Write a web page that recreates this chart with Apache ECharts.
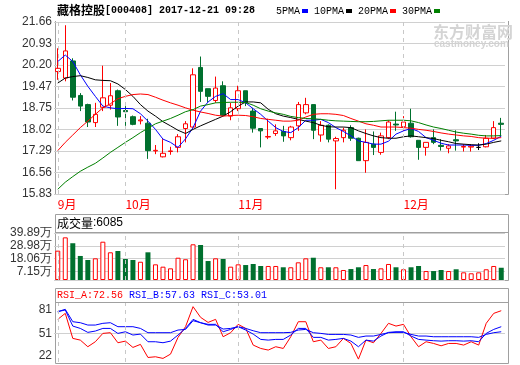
<!DOCTYPE html>
<html>
<head>
<meta charset="utf-8">
<title>藏格控股 K线</title>
<script src="https://cdn.jsdelivr.net/npm/echarts@6/dist/echarts.min.js"></script>
<style>
  html, body { margin: 0; padding: 0; background: #fff; }
  #chart { width: 520px; height: 365px; }
</style>
</head>
<body>
<div id="chart"></div>
<script>
// ---- data ----
const stockName = '藏格控股'
const stockInfo = '[000408] 2017-12-21 09:28'
const lastVolume = '6085'
const rsiLast = ['72.56', '57.63', '53.01']

const monthLabels = ['9月', '10月', '11月', '12月']
const monthStartIdx = [0, 9, 24, 46]

const openPrices = [19.98, 19.76, 20.34, 19.17, 18.86, 18.25, 18.77, 18.84, 19.33, 18.66, 18.45, 18.31, 18.23, 17.29, 17.09, 17.27, 17.41, 18.05, 18.10, 20.12, 19.40, 19.00, 19.50, 18.47, 18.72, 19.33, 18.64, 18.05, 17.76, 17.88, 17.95, 17.74, 18.14, 18.58, 18.86, 17.83, 18.16, 17.63, 17.74, 18.08, 17.72, 16.96, 17.52, 17.24, 17.74, 18.20, 18.11, 18.23, 17.65, 17.41, 17.74, 17.48, 17.38, 17.67, 17.42, 17.42, 17.41, 17.43, 17.72, 18.23]
const closePrices = [20.09, 20.68, 19.11, 18.81, 18.27, 18.53, 19.09, 19.16, 18.44, 18.62, 18.19, 18.34, 17.30, 17.31, 17.21, 17.29, 17.77, 18.21, 19.87, 19.31, 19.14, 19.42, 18.50, 18.75, 19.33, 18.92, 18.06, 17.97, 17.78, 17.97, 17.80, 18.10, 18.86, 18.86, 17.99, 18.16, 17.69, 17.71, 17.99, 17.72, 16.96, 17.58, 17.41, 17.80, 18.27, 18.17, 18.27, 17.77, 17.41, 17.58, 17.58, 17.44, 17.46, 17.63, 17.44, 17.45, 17.41, 17.72, 18.08, 18.19]
const lowPrices = [19.70, 19.65, 19.00, 18.64, 18.10, 18.10, 18.64, 18.69, 18.14, 18.14, 18.16, 18.19, 17.02, 17.18, 17.07, 17.16, 17.24, 17.58, 18.08, 18.95, 18.95, 18.92, 18.47, 18.33, 18.64, 18.81, 17.91, 17.41, 17.69, 17.80, 17.60, 17.65, 17.97, 18.53, 17.69, 17.60, 17.58, 15.99, 17.58, 17.63, 16.96, 16.55, 17.15, 17.16, 17.69, 17.97, 17.97, 17.74, 16.99, 17.13, 17.52, 17.30, 17.21, 17.30, 17.27, 17.27, 17.32, 17.41, 17.69, 17.80]
const highPrices = [20.77, 21.55, 20.43, 19.25, 18.89, 18.92, 20.18, 19.59, 19.37, 18.81, 18.49, 18.47, 18.38, 17.49, 17.69, 17.43, 17.86, 18.30, 20.09, 20.49, 19.40, 19.81, 19.65, 18.92, 19.50, 19.33, 18.75, 18.05, 18.38, 18.19, 18.14, 18.14, 18.95, 19.09, 18.86, 18.30, 18.19, 17.77, 18.08, 18.16, 17.74, 18.02, 17.95, 17.91, 18.33, 18.62, 18.47, 18.72, 17.65, 17.58, 18.02, 17.69, 17.52, 17.99, 17.52, 17.52, 17.55, 17.83, 18.30, 18.41]

const ma5 = [20.32, 20.54, 20.32, 19.87, 19.48, 19.14, 18.81, 18.75, 18.72, 18.73, 18.72, 18.55, 18.30, 18.02, 17.69, 17.58, 17.41, 17.70, 18.08, 18.64, 18.95, 19.14, 19.23, 19.03, 19.03, 18.92, 18.72, 18.53, 18.30, 18.08, 17.95, 17.91, 18.08, 18.33, 18.33, 18.36, 18.25, 18.08, 17.95, 17.80, 17.63, 17.58, 17.52, 17.52, 17.62, 17.86, 17.97, 18.05, 17.95, 17.74, 17.65, 17.55, 17.49, 17.49, 17.49, 17.48, 17.48, 17.54, 17.65, 17.79]
const ma10 = [19.59, 19.76, 19.81, 19.84, 19.78, 19.70, 19.68, 19.67, 19.56, 19.37, 19.14, 18.86, 18.64, 18.47, 18.28, 18.14, 17.99, 17.88, 18.02, 18.14, 18.25, 18.36, 18.47, 18.62, 18.81, 18.95, 18.95, 18.92, 18.70, 18.55, 18.47, 18.42, 18.36, 18.30, 18.25, 18.16, 18.11, 18.10, 18.10, 18.08, 17.97, 17.88, 17.80, 17.74, 17.72, 17.72, 17.77, 17.80, 17.77, 17.74, 17.71, 17.65, 17.60, 17.54, 17.52, 17.50, 17.49, 17.52, 17.58, 17.63]
const ma20 = [17.30, 17.58, 17.83, 18.08, 18.30, 18.53, 18.75, 18.89, 19.06, 19.14, 19.20, 19.22, 19.20, 19.11, 19.01, 18.92, 18.84, 18.75, 18.67, 18.61, 18.56, 18.50, 18.47, 18.49, 18.50, 18.49, 18.45, 18.39, 18.36, 18.33, 18.30, 18.30, 18.33, 18.44, 18.53, 18.55, 18.55, 18.53, 18.49, 18.39, 18.30, 18.21, 18.16, 18.10, 18.10, 18.10, 18.08, 18.06, 18.02, 17.99, 17.95, 17.90, 17.86, 17.83, 17.80, 17.78, 17.74, 17.72, 17.72, 17.74]
const ma30 = [15.99, 16.23, 16.42, 16.60, 16.74, 16.87, 17.05, 17.24, 17.41, 17.58, 17.74, 17.91, 18.06, 18.21, 18.30, 18.39, 18.50, 18.62, 18.69, 18.81, 18.86, 18.92, 18.93, 18.94, 18.94, 18.93, 18.84, 18.72, 18.64, 18.58, 18.53, 18.46, 18.42, 18.39, 18.38, 18.36, 18.33, 18.31, 18.30, 18.29, 18.28, 18.28, 18.29, 18.31, 18.33, 18.33, 18.33, 18.31, 18.25, 18.17, 18.10, 18.05, 17.99, 17.93, 17.89, 17.86, 17.82, 17.80, 17.80, 17.81]

// volume in 万
const volumes = [24.9, 36.2, 31.2, 20.4, 17.0, 18.4, 32.5, 23.5, 24.6, 17.8, 17.0, 15.5, 23.5, 13.3, 11.3, 9.9, 18.9, 17.6, 30.3, 29.7, 16.1, 18.4, 17.8, 11.3, 13.3, 12.7, 13.6, 11.9, 11.9, 11.9, 10.8, 10.8, 15.0, 18.4, 18.9, 10.8, 10.8, 10.8, 8.5, 9.3, 10.8, 12.7, 9.3, 9.9, 13.6, 10.8, 9.1, 10.8, 11.9, 7.6, 7.6, 8.5, 7.6, 9.1, 6.5, 5.7, 6.5, 9.1, 11.9, 10.4]

const rsiA = [69.0, 76.7, 44.6, 42.4, 33.9, 40.3, 51.0, 51.9, 39.0, 41.1, 33.0, 36.9, 20.1, 21.0, 18.9, 24.4, 45.9, 59.6, 85.3, 71.6, 65.1, 69.0, 46.7, 51.9, 62.6, 57.4, 36.0, 31.7, 29.6, 33.9, 31.7, 46.7, 66.0, 66.0, 40.3, 42.4, 31.7, 33.9, 44.6, 38.1, 18.0, 42.4, 39.0, 51.0, 63.9, 60.4, 62.6, 46.7, 33.9, 40.3, 38.1, 35.1, 38.1, 38.1, 36.0, 40.3, 36.0, 63.9, 76.7, 80.1]
const rsiB = [78.9, 81.0, 60.4, 57.4, 52.3, 54.0, 57.4, 57.4, 51.0, 53.1, 48.9, 50.1, 40.3, 40.3, 39.0, 41.1, 48.9, 57.4, 69.0, 64.7, 62.6, 62.6, 53.1, 56.1, 59.6, 55.3, 50.1, 43.3, 42.4, 43.3, 43.3, 48.9, 57.4, 57.4, 45.9, 45.9, 42.4, 43.3, 44.6, 41.1, 33.9, 42.4, 41.1, 47.6, 52.3, 53.1, 53.1, 47.6, 43.3, 42.4, 41.6, 41.1, 41.6, 41.6, 41.1, 41.6, 40.3, 51.0, 56.1, 59.6]
const rsiC = [78.9, 81.9, 66.0, 64.7, 61.7, 61.7, 63.9, 64.7, 59.6, 59.6, 59.6, 57.4, 51.9, 51.9, 51.9, 51.9, 55.3, 56.1, 67.3, 64.7, 61.7, 61.7, 56.6, 57.4, 59.6, 57.4, 54.4, 51.9, 51.9, 51.9, 51.9, 52.3, 55.3, 56.1, 51.9, 51.0, 49.7, 49.7, 49.7, 48.9, 45.9, 47.6, 47.6, 49.7, 51.9, 52.3, 52.3, 49.7, 47.6, 47.6, 46.7, 46.7, 46.7, 46.7, 46.7, 46.7, 45.9, 49.7, 51.9, 53.1]

const priceTicks = [15.83, 16.56, 17.29, 18.02, 18.75, 19.47, 20.20, 20.93, 21.66]
const volumeTicks = [0, 7.15, 18.06, 28.98, 39.89]
const rsiTicks = [22, 51, 81]

const maNames = ['5PMA', '10PMA', '20PMA', '30PMA']
const maColors = ['#0000ff', '#000000', '#ff0000', '#008000']

// ---- styling ----
const RED = '#ff0000'
const GREEN = '#00702e'
const GRID_LINE = '#d0d0d0'
const FRAME = '#a0a0a0'
const LABEL_FONT = 'Liberation Sans'
const MONO_FONT = 'Liberation Mono'
const CJK_FONT = 'Noto Sans CJK SC'

const days = openPrices.map((_, i) => String(i))
const candles = openPrices.map((o, i) => [o, closePrices[i], lowPrices[i], highPrices[i]])
const volumeBars = volumes.map((v, i) => {
  const up = closePrices[i] >= openPrices[i]
  return {
    value: v,
    itemStyle: up
      ? { color: '#fff', borderColor: RED, borderWidth: 1 }
      : { color: GREEN, borderColor: GREEN, borderWidth: 0 }
  }
})

// legend text: name, small gap, colour swatch
const legendRich = { t: { fontFamily: MONO_FONT, fontSize: 10, fill: '#000' }, g: { width: 2 } }
maColors.forEach((c, i) => {
  legendRich['s' + i] = { width: 6, height: 4, backgroundColor: c }
})
const legendText = maNames.map((n, i) => '{t|' + n + '}{g|}{s' + i + '|}').join('{t| }')

const monthLines = {
  silent: true,
  symbol: ['none', 'none'],
  label: { show: false },
  lineStyle: { color: '#c8c8c8', type: [4, 4], width: 1 },
  data: monthStartIdx.map(i => ({ xAxis: i }))
}

const baseX = {
  type: 'category',
  data: days,
  boundaryGap: true,
  axisLine: { show: false },
  axisTick: { show: false },
  axisLabel: { show: false },
  splitLine: { show: false }
}

const axisLabelStyle = {
  color: '#333',
  fontSize: 12,
  fontFamily: LABEL_FONT,
  margin: 2
}

const maSeries = [ma5, ma10, ma20, ma30].map((d, i) => ({
  name: maNames[i],
  type: 'line',
  xAxisIndex: 0,
  yAxisIndex: 0,
  data: d,
  color: maColors[i],
  showSymbol: false,
  lineStyle: { width: 1 }
}))

const chart = echarts.init(document.getElementById('chart'))

const option = {
  animation: false,
  backgroundColor: '#fff',
  title: {
    text: '{cn|' + stockName + '}{en|' + stockInfo + '}',
    left: 57,
    top: 4,
    padding: 0,
    textStyle: {
      rich: {
        cn: { fontFamily: CJK_FONT, fontSize: 12, color: '#000' },
        en: { fontFamily: MONO_FONT, fontSize: 10, color: '#000' }
      }
    }
  },
  grid: [
    { left: 54, right: 15, top: 22, height: 172, outerBoundsMode: 'none' },
    { left: 54, right: 15, top: 233, height: 47, outerBoundsMode: 'none' },
    { left: 54, right: 15, top: 303, height: 59, outerBoundsMode: 'none' }
  ],
  xAxis: [
    Object.assign({}, baseX, {
      gridIndex: 0,
      axisLabel: {
        show: true,
        color: RED,
        fontSize: 12,
        fontFamily: CJK_FONT,
        align: 'left',
        margin: 4,
        interval: (index) => monthStartIdx.includes(index),
        formatter: (value, index) => monthLabels[monthStartIdx.indexOf(index)] || ''
      }
    }),
    Object.assign({}, baseX, { gridIndex: 1 }),
    Object.assign({}, baseX, { gridIndex: 2 })
  ],
  yAxis: [
    {
      type: 'value', gridIndex: 0, min: 15.83, max: 21.66,
      axisLine: { show: false },
      axisTick: { show: false, customValues: priceTicks },
      axisLabel: Object.assign({}, axisLabelStyle, {
        customValues: priceTicks,
        formatter: v => v.toFixed(2)
      }),
      splitLine: { show: true, lineStyle: { color: GRID_LINE, width: 1 } }
    },
    {
      type: 'value', gridIndex: 1, min: 0, max: 39.89,
      axisLine: { show: false },
      axisTick: { show: false, customValues: volumeTicks },
      axisLabel: Object.assign({}, axisLabelStyle, {
        customValues: volumeTicks,
        formatter: v => (v === 0 ? '0' : v.toFixed(2) + '万')
      }),
      splitLine: { show: true, lineStyle: { color: GRID_LINE, width: 1 } }
    },
    {
      type: 'value', gridIndex: 2, min: 14.3, max: 90,
      axisLine: { show: false },
      axisTick: { show: false, customValues: [51] },
      axisLabel: Object.assign({}, axisLabelStyle, { customValues: rsiTicks }),
      splitLine: { show: true, lineStyle: { color: GRID_LINE, width: 1 } }
    }
  ],
  series: [
    {
      name: 'K',
      type: 'candlestick',
      xAxisIndex: 0, yAxisIndex: 0,
      barWidth: 5,
      data: candles,
      itemStyle: {
        color: '#fff', color0: GREEN,
        borderColor: RED, borderColor0: GREEN, borderColorDoji: '#000',
        borderWidth: 1
      },
      markLine: monthLines
    },
    ...maSeries,
    {
      name: '成交量',
      type: 'bar',
      xAxisIndex: 1, yAxisIndex: 1,
      barWidth: 5,
      data: volumeBars,
      markLine: monthLines
    },
    { name: 'RSI_A', type: 'line', xAxisIndex: 2, yAxisIndex: 2, data: rsiA, color: RED, showSymbol: false, lineStyle: { width: 1 }, markLine: monthLines },
    { name: 'RSI_B', type: 'line', xAxisIndex: 2, yAxisIndex: 2, data: rsiB, color: '#0000ff', showSymbol: false, lineStyle: { width: 1 } },
    { name: 'RSI_C', type: 'line', xAxisIndex: 2, yAxisIndex: 2, data: rsiC, color: '#0000ff', showSymbol: false, lineStyle: { width: 1 } }
  ],
  graphic: [
    // MA legend
    {
      type: 'text', silent: true, left: 276, top: 5,
      style: { text: legendText, rich: legendRich }
    },
    // main panel frame
    { type: 'polyline', silent: true, shape: { points: [[55.5, 21], [55.5, 194.5], [508.5, 194.5], [508.5, 21]] }, style: { stroke: FRAME, fill: null, lineWidth: 1 } },
    // volume panel
    { type: 'rect', silent: true, shape: { x: 55.5, y: 214.5, width: 453, height: 66 }, style: { stroke: FRAME, fill: null, lineWidth: 1 } },
    { type: 'line', silent: true, shape: { x1: 55.5, y1: 232.5, x2: 508.5, y2: 232.5 }, style: { stroke: FRAME, lineWidth: 1 } },
    {
      type: 'text', silent: true, left: 57, top: 217,
      style: {
        text: '{cn|成交量}{en|:' + lastVolume + '}',
        rich: {
          cn: { fontFamily: CJK_FONT, fontSize: 12, fill: '#000' },
          en: { fontFamily: LABEL_FONT, fontSize: 12, fill: '#000' }
        }
      }
    },
    // RSI panel
    { type: 'rect', silent: true, shape: { x: 55.5, y: 288.5, width: 453, height: 75 }, style: { stroke: FRAME, fill: null, lineWidth: 1 } },
    { type: 'line', silent: true, shape: { x1: 55.5, y1: 302.5, x2: 508.5, y2: 302.5 }, style: { stroke: FRAME, lineWidth: 1 } },
    {
      type: 'text', silent: true, left: 57, top: 290,
      style: {
        text: '{a|RSI_A:' + rsiLast[0] + '} {b|RSI_B:' + rsiLast[1] + '} {b|RSI_C:' + rsiLast[2] + '}',
        font: '10px ' + MONO_FONT,
        rich: {
          a: { fontFamily: MONO_FONT, fontSize: 10, fill: RED },
          b: { fontFamily: MONO_FONT, fontSize: 10, fill: '#0000ff' }
        }
      }
    },
    // watermark
    {
      type: 'text', silent: true, left: 433, top: 24,
      style: { text: '东方财富网', font: 'bold 16px ' + CJK_FONT, fill: '#d4d4d4' }
    },
    {
      type: 'text', silent: true, left: 434, top: 39,
      style: { text: 'eastmoney.com', font: 'bold 10px ' + LABEL_FONT, fill: '#d4d4d4' }
    }
  ]
}

chart.setOption(option)
</script>
</body>
</html>
